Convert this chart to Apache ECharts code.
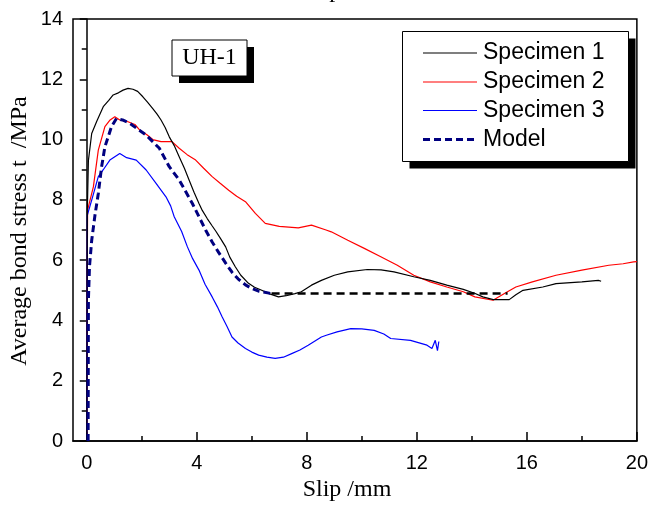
<!DOCTYPE html>
<html>
<head>
<meta charset="utf-8">
<script src="https://cdn.jsdelivr.net/npm/echarts@6/dist/echarts.min.js"></script>
<style>html,body{margin:0;padding:0;background:#fff;}#c{width:651px;height:505px;}</style>
</head>
<body>
<div id="c"></div>
<script>
// Tick labels
const xTickLabels = [0, 4, 8, 12, 16, 20];
const xMinorTicks = [2, 6, 10, 14, 18];
const seriesNames = ['Specimen 1', 'Specimen 2', 'Specimen 3', 'Model'];
const seriesColors = ['#000000', '#ff0000', '#0000ff', '#000080'];

// Specimen 1 (slip mm, stress MPa)
const specimen1 = [[0,0],[0.01,3.5],[0.02,7.6],[0.06,9.3],[0.18,10.2],[0.36,10.6],[0.6,11.09],[0.8,11.3],[0.96,11.48],[1.15,11.55],[1.32,11.64],[1.5,11.7],[1.68,11.67],[1.85,11.6],[2.04,11.42],[2.2,11.25],[2.4,11.03],[2.55,10.85],[2.7,10.65],[2.85,10.4],[3.0,10.09],[3.18,9.8],[3.36,9.43],[3.55,9.05],[3.72,8.66],[3.9,8.25],[4.08,7.88],[4.2,7.65],[4.38,7.38],[4.55,7.15],[4.7,6.95],[4.86,6.72],[5.05,6.44],[5.2,6.1],[5.4,5.78],[5.6,5.5],[5.88,5.23],[6.1,5.1],[6.36,5.0],[6.65,4.88],[6.97,4.78],[7.25,4.82],[7.57,4.89],[7.8,4.95],[8.17,5.17],[8.53,5.33],[9.0,5.5],[9.49,5.61],[10.2,5.69],[10.7,5.68],[11.17,5.61],[11.89,5.45],[12.49,5.33],[13.09,5.17],[13.69,5.03],[14.1,4.9],[14.4,4.78],[14.78,4.69],[15.36,4.69],[15.6,4.85],[15.86,5.0],[16.58,5.11],[17.06,5.22],[18.0,5.28],[18.6,5.33],[18.7,5.3]];

// Specimen 2
const specimen2 = [[0,0],[0.01,4],[0.03,7.66],[0.24,8.43],[0.42,9.65],[0.66,10.43],[0.85,10.65],[1.02,10.76],[1.2,10.65],[1.5,10.59],[1.75,10.5],[1.92,10.32],[2.2,10.15],[2.4,10.0],[2.7,9.93],[3.1,9.93],[3.36,9.71],[3.65,9.5],[3.96,9.32],[4.25,9.05],[4.56,8.77],[4.85,8.55],[5.16,8.32],[5.45,8.12],[5.77,7.94],[6.13,7.55],[6.49,7.22],[7.0,7.12],[7.69,7.07],[8.17,7.16],[8.7,7.0],[8.89,6.94],[9.49,6.66],[10.09,6.39],[10.69,6.11],[11.29,5.83],[11.89,5.5],[12.49,5.28],[13.09,5.11],[13.69,4.95],[14.11,4.78],[14.77,4.67],[15.2,4.9],[15.6,5.11],[16.2,5.28],[17.06,5.5],[18.0,5.67],[18.98,5.83],[19.5,5.88],[19.88,5.94],[20,5.95]];

// Specimen 3
const specimen3 = [[0,0],[0.01,4],[0.02,7.49],[0.18,7.99],[0.42,8.77],[0.6,9.0],[0.84,9.32],[1.2,9.54],[1.45,9.4],[1.8,9.32],[2.16,8.99],[2.52,8.55],[2.88,8.1],[3.05,7.8],[3.18,7.44],[3.45,6.95],[3.66,6.44],[3.85,6.05],[4.08,5.67],[4.3,5.2],[4.56,4.78],[4.75,4.45],[4.92,4.12],[5.1,3.8],[5.28,3.45],[5.5,3.25],[5.77,3.07],[6.0,2.95],[6.25,2.85],[6.55,2.78],[6.85,2.74],[7.15,2.78],[7.45,2.9],[7.75,3.02],[8.05,3.18],[8.53,3.45],[8.71,3.51],[9.1,3.62],[9.6,3.73],[10.0,3.72],[10.45,3.67],[10.8,3.55],[11.05,3.4],[11.77,3.34],[12.37,3.18],[12.55,3.07],[12.67,3.34],[12.75,3.0],[12.8,3.3]];

// Model (ascending and softening branch)
const modelCurve = [[0.05,0],[0.06,4.67],[0.1,5.8],[0.18,6.66],[0.3,7.5],[0.42,8.21],[0.54,9.1],[0.66,9.76],[0.8,10.15],[0.9,10.43],[1.08,10.7],[1.3,10.65],[1.56,10.54],[2.16,10.15],[2.64,9.71],[3.0,9.1],[3.36,8.66],[3.84,7.88],[4.08,7.44],[4.32,7.0],[4.56,6.6],[4.8,6.25],[5.05,5.9],[5.28,5.6],[5.5,5.38],[5.77,5.18],[6.0,5.06],[6.25,4.97],[6.72,4.89]];
// Model residual branch
const modelResidual = [[6.72,4.89],[15.3,4.89]];

const chart = echarts.init(document.getElementById('c'), null, {renderer: 'canvas'});
const axisFont = {fontFamily: 'Liberation Sans, Arial', fontSize: 20, color: '#000'};
const serif = 'Liberation Serif, Times New Roman, serif';
const sans = 'Liberation Sans, Arial, sans-serif';

// Manual legend (box with drop shadow)
const legendGraphics = [
  {type: 'rect', shape: {x: 409.5, y: 38.5, width: 226, height: 130}, style: {fill: '#000'}, z: 5, silent: true},
  {type: 'rect', shape: {x: 402.5, y: 31.5, width: 226, height: 130}, style: {fill: '#fff', stroke: '#000', lineWidth: 1}, z: 6, silent: true}
];
const legendRowY = [53, 82, 110.5, 139.5];
seriesNames.forEach((name, i) => {
  const isModel = i === 3;
  legendGraphics.push({type: 'line', shape: {x1: 423, y1: legendRowY[i], x2: 477, y2: legendRowY[i]},
    style: {stroke: seriesColors[i], lineWidth: isModel ? 3 : 1.2, lineDash: isModel ? [7, 4] : null}, z: 7, silent: true});
  legendGraphics.push({type: 'text', x: 483, y: legendRowY[i], style: {text: name, font: '23px ' + sans, fill: '#000', textAlign: 'left', textVerticalAlign: 'middle'}, z: 7, silent: true});
});

chart.setOption({
  animation: false,
  backgroundColor: '#fff',
  grid: {left: 73, right: 12, top: 19, bottom: 64, show: true, borderColor: '#000', borderWidth: 1.5, backgroundColor: 'transparent'},
  xAxis: [{
    type: 'value', min: -0.5, max: 20,
    axisLine: {show: true, lineStyle: {color: '#000', width: 1.5}},
    axisTick: {show: true, inside: true, length: 9, customValues: xTickLabels, lineStyle: {color: '#000', width: 1.5}},
    axisLabel: {show: true, customValues: xTickLabels, margin: 12, ...axisFont},
    splitLine: {show: false}
  }, {
    type: 'value', min: -0.5, max: 20, position: 'bottom', offset: 0,
    axisLine: {show: false},
    axisTick: {show: true, inside: true, length: 5, customValues: xMinorTicks, lineStyle: {color: '#000', width: 1.5}},
    axisLabel: {show: false},
    splitLine: {show: false}
  }],
  yAxis: {
    type: 'value', min: 0, max: 14, interval: 2,
    axisLine: {show: true, lineStyle: {color: '#000', width: 1.5}},
    axisTick: {show: true, inside: false, length: 7, lineStyle: {color: '#000', width: 1.5}},
    minorTick: {show: true, splitNumber: 2, length: 5, lineStyle: {color: '#000', width: 1.5}},
    axisLabel: {margin: 10, ...axisFont},
    splitLine: {show: false}
  },
  series: [
    {name: seriesNames[0], type: 'line', data: specimen1, showSymbol: false, symbol: 'none', lineStyle: {color: seriesColors[0], width: 1.2}, z: 3},
    {name: seriesNames[1], type: 'line', data: specimen2, showSymbol: false, symbol: 'none', lineStyle: {color: seriesColors[1], width: 1.2}, z: 2},
    {name: seriesNames[2], type: 'line', data: specimen3, showSymbol: false, symbol: 'none', lineStyle: {color: seriesColors[2], width: 1.2}, z: 2},
    {name: seriesNames[3], type: 'line', data: modelCurve, showSymbol: false, symbol: 'none', lineStyle: {color: seriesColors[3], width: 3, type: [7, 4]}, z: 4},
    {name: 'Model residual', type: 'line', data: modelResidual, showSymbol: false, symbol: 'none', lineStyle: {color: '#000', width: 2.5, type: [8, 5]}, z: 4}
  ],
  graphic: legendGraphics.concat([
    {type: 'rect', shape: {x: 179, y: 47, width: 75, height: 36}, style: {fill: '#000'}, z: 5, silent: true},
    {type: 'rect', shape: {x: 172, y: 40, width: 75, height: 36}, style: {fill: '#fff', stroke: '#000', lineWidth: 1}, z: 6, silent: true},
    {type: 'text', x: 209.5, y: 58, style: {text: 'UH-1', font: '24px ' + serif, fill: '#000', textAlign: 'center', textVerticalAlign: 'middle'}, z: 7, silent: true},
    {type: 'text', x: 347, y: 490, style: {text: 'Slip /mm', font: '24px ' + serif, fill: '#000', textAlign: 'center', textVerticalAlign: 'middle'}, silent: true},
    {type: 'text', x: 347, y: -9, style: {text: 'Slip /mm', font: '24px ' + serif, fill: '#000', textAlign: 'center', textVerticalAlign: 'middle'}, silent: true},
    {type: 'text', x: 20, y: 231, rotation: Math.PI / 2, style: {text: 'Average bond stress t  /MPa', font: '24px ' + serif, fill: '#000', textAlign: 'center', textVerticalAlign: 'middle'}, silent: true}
  ])
});
</script>
</body>
</html>
